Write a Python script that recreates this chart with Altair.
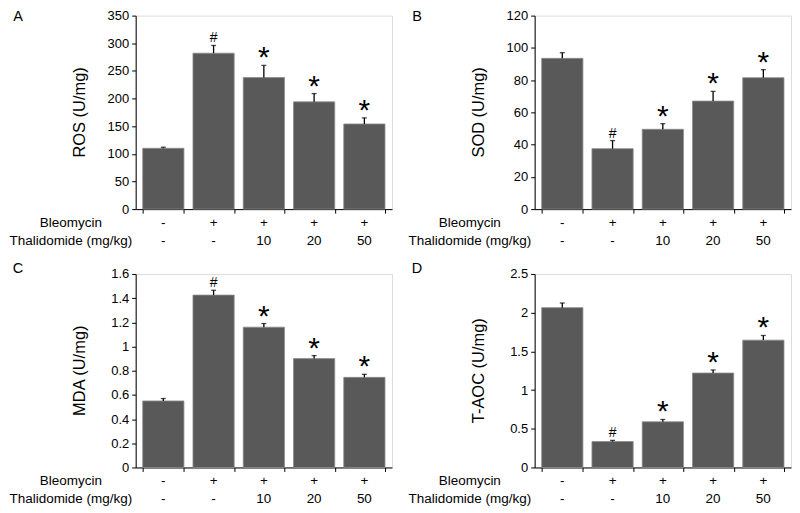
import altair as alt
import pandas as pd

# ---- data ----
groups = ["g1", "g2", "g3", "g4", "g5"]
bleomycin = ["-", "+", "+", "+", "+"]
thalidomide = ["-", "-", "10", "20", "50"]
signif = ["", "#", "*", "*", "*"]
row_names = ["Bleomycin", "Thalidomide (mg/kg)"]

ros_mean = [110, 282, 238, 194, 154]
ros_err = [2, 14, 22, 15, 11]
sod_mean = [93.5, 37.5, 49.5, 67, 81.5]
sod_err = [3.5, 5, 3.5, 6, 5]
mda_mean = [0.55, 1.425, 1.16, 0.90, 0.745]
mda_err = [0.02, 0.04, 0.03, 0.025, 0.025]
taoc_mean = [2.065, 0.335, 0.59, 1.22, 1.645]
taoc_err = [0.06, 0.015, 0.03, 0.04, 0.06]

ros_ticks = [0, 50, 100, 150, 200, 250, 300, 350]
sod_ticks = [0, 20, 40, 60, 80, 100, 120]
mda_ticks = [0, 0.2, 0.4, 0.6, 0.8, 1, 1.2, 1.4, 1.6]
taoc_ticks = [0, 0.5, 1, 1.5, 2, 2.5]

panels = [
    ("A", "ROS (U/mg)", ros_mean, ros_err, ros_ticks),
    ("B", "SOD (U/mg)", sod_mean, sod_err, sod_ticks),
    ("C", "MDA (U/mg)", mda_mean, mda_err, mda_ticks),
    ("D", "T-AOC (U/mg)", taoc_mean, taoc_err, taoc_ticks),
]

W, H = 257, 194
FONT = "Liberation Sans"
BAR = "#595959"


def make_panel(letter, title, mean, err, ticks, letter_y):
    df = pd.DataFrame({
        "g": groups, "mean": mean, "err": err,
        "bleo": bleomycin, "thal": thalidomide, "sig": signif,
    })
    base = alt.Chart(df).transform_calculate(
        lo="datum.mean - datum.err", hi="datum.mean + datum.err"
    )
    x = alt.X(
        "g:N", sort=groups,
        scale=alt.Scale(paddingInner=0.18, paddingOuter=0.14),
        axis=alt.Axis(labels=False, title=None, tickBand="extent", ticks=True,
                      tickSize=4, tickColor="black", domainColor="black",
                      domainWidth=1, grid=False),
    )
    yscale = alt.Scale(domain=[ticks[0], ticks[-1]], nice=False)
    yaxis = alt.Axis(values=ticks, format="~r", title=None, grid=False,
                     labelFontSize=13, labelFont=FONT, labelColor="black",
                     tickSize=4, tickColor="black", domainColor="black",
                     domainWidth=1, labelPadding=3)

    def yenc(field):
        return alt.Y(field, scale=yscale, axis=yaxis)

    bars = base.mark_bar(color=BAR, stroke="#8c8c8c", strokeWidth=0.8).encode(
        x=x, y=yenc("mean:Q"))
    rule = base.mark_rule(color="black", strokeWidth=1.3).encode(
        x=x, y=yenc("mean:Q"), y2="hi:Q")
    cap_hi = base.mark_tick(color="black", size=5, thickness=1.3).encode(
        x=x, y=yenc("hi:Q"))
    hash_t = base.transform_filter("datum.sig == '#'").mark_text(
        font=FONT, fontSize=14, baseline="alphabetic", dy=-3, color="black"
    ).encode(x=x, y=yenc("hi:Q"), text="sig:N")
    star_t = base.transform_filter("datum.sig == '*'").mark_text(
        font=FONT, fontSize=30, baseline="alphabetic", dy=2, color="black"
    ).encode(x=x, y=yenc("hi:Q"), text="sig:N")
    row1 = base.mark_text(font=FONT, fontSize=13.5, baseline="middle", color="black").encode(
        x=x, y=alt.value(H + 14), text="bleo:N")
    row2 = base.mark_text(font=FONT, fontSize=13.5, baseline="middle", color="black").encode(
        x=x, y=alt.value(H + 32), text="thal:N")
    lab1 = alt.Chart(pd.DataFrame({"t": [row_names[0]]})).mark_text(
        font=FONT, fontSize=13.5, baseline="middle", align="center", color="black"
    ).encode(x=alt.value(-65), y=alt.value(H + 14), text="t:N")
    lab2 = alt.Chart(pd.DataFrame({"t": [row_names[1]]})).mark_text(
        font=FONT, fontSize=13.5, baseline="middle", align="center", color="black"
    ).encode(x=alt.value(-65), y=alt.value(H + 32), text="t:N")
    ytitle = alt.Chart(pd.DataFrame({"t": [title]})).mark_text(
        font=FONT, fontSize=16.5, angle=270, baseline="middle", align="center", color="black"
    ).encode(x=alt.value(-56), y=alt.value(H / 2), text="t:N")
    let = alt.Chart(pd.DataFrame({"t": [letter]})).mark_text(
        font=FONT, fontSize=14.5, baseline="alphabetic", align="center", color="black"
    ).encode(x=alt.value(-118), y=alt.value(letter_y), text="t:N")

    return alt.layer(bars, rule, cap_hi, hash_t, star_t, row1, row2,
                     lab1, lab2, ytitle, let).properties(width=W, height=H)


pa = make_panel(*panels[0], letter_y=5.5)
pb = make_panel(*panels[1], letter_y=5.5)
pc = make_panel(*panels[2], letter_y=-1)
pd_ = make_panel(*panels[3], letter_y=-1)

chart = alt.concat(
    pa, pb, pc, pd_, columns=2,
    spacing={"row": 65, "column": 143}, bounds="flush",
).properties(padding=0).configure_view(stroke=None).configure(font=FONT)

chart.save("out.html", embed_options={"renderer": "svg", "actions": False})
